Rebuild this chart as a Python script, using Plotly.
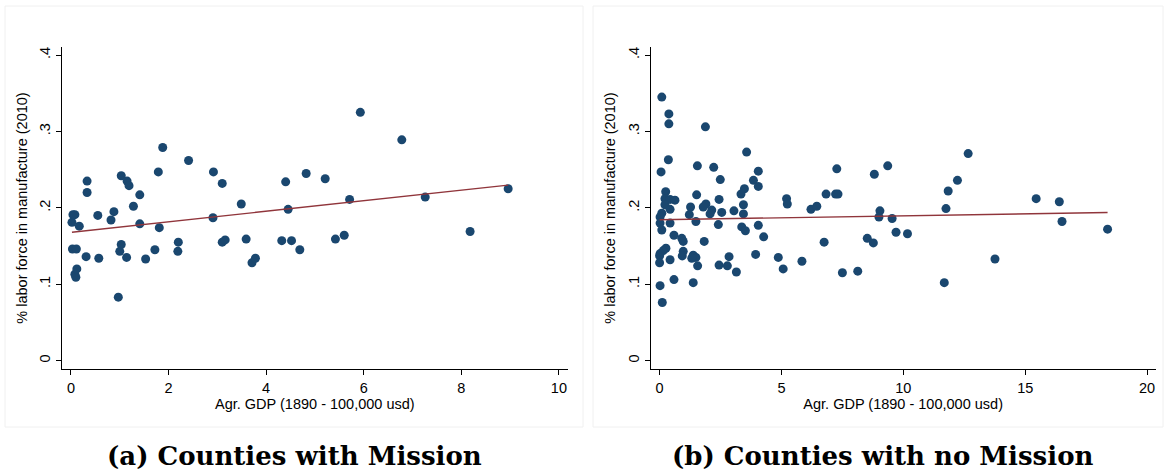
import numpy as np
import plotly.graph_objects as go

# ---------------- data ----------------
mission_gdp = [0.02, 0.04, 0.08, 0.03, 0.11, 0.08, 0.10, 0.12, 0.17, 0.33, 0.33, 0.31,
               0.55, 0.57, 0.82, 0.88, 0.97, 1.00, 1.03, 1.03, 1.15, 1.19, 1.14, 1.28,
               1.41, 1.41, 1.53, 1.72, 1.79, 1.81, 1.88, 2.19, 2.20, 2.41, 2.92, 2.91,
               3.10, 3.10, 3.16, 3.49, 3.59, 3.71, 3.78, 4.32, 4.40, 4.45, 4.52, 4.69,
               4.82, 5.21, 5.42, 5.60, 5.71, 5.93, 6.78, 7.26, 8.18, 8.96]
mission_manuf = [0.181, 0.191, 0.191, 0.146, 0.146, 0.113, 0.109, 0.120, 0.176, 0.235, 0.220, 0.136,
                 0.190, 0.134, 0.184, 0.195, 0.083, 0.143, 0.152, 0.242, 0.235, 0.229, 0.135, 0.202,
                 0.217, 0.179, 0.133, 0.145, 0.247, 0.174, 0.279, 0.143, 0.155, 0.262, 0.247, 0.187,
                 0.232, 0.155, 0.158, 0.205, 0.159, 0.128, 0.134, 0.157, 0.234, 0.198, 0.157, 0.145,
                 0.245, 0.238, 0.159, 0.164, 0.211, 0.325, 0.289, 0.214, 0.169, 0.225]

nomission_gdp = [0.09, 0.38, 0.38, 1.88, 0.36, 3.57, 0.06, 1.55, 2.22, 2.49, 3.85, 4.05,
                 4.05, 3.48, 3.34, 0.25, 1.52, 0.22, 0.43, 0.63, 0.22, 0.43, 0.09, 0.02,
                 0.02, 0.43, 0.09, 1.27, 1.22, 1.90, 1.79, 2.14, 2.07, 2.44, 2.55, 2.41,
                 1.49, 3.05, 3.44, 3.44, 3.37, 3.52, 4.05, 4.27, 0.59, 0.91, 0.97, 1.83,
                 0.26, 0.15, 0.02, 0.00, 0.00, 0.43, 0.97, 0.93, 1.38, 1.49, 1.32, 1.56,
                 2.44, 2.78, 2.85, 3.15, 3.94, 4.87, 5.07, 5.84, 5.21, 5.24, 0.02, 0.59,
                 1.38, 0.11, 6.21, 6.45, 6.83, 7.27, 7.22, 7.32, 6.75, 7.50, 8.13, 8.52,
                 8.77, 8.81, 9.36, 9.04, 9.00, 9.54, 9.70, 10.17, 11.75, 11.84, 12.22, 12.66,
                 11.68, 13.76, 15.45, 16.40, 16.51, 18.38]
nomission_manuf = [0.345, 0.323, 0.310, 0.306, 0.263, 0.273, 0.247, 0.255, 0.253, 0.237, 0.236, 0.248,
                   0.228, 0.225, 0.218, 0.221, 0.217, 0.212, 0.211, 0.210, 0.204, 0.198, 0.193, 0.188,
                   0.180, 0.180, 0.171, 0.201, 0.191, 0.205, 0.201, 0.197, 0.192, 0.211, 0.194, 0.178,
                   0.182, 0.196, 0.204, 0.192, 0.175, 0.170, 0.177, 0.162, 0.164, 0.160, 0.156, 0.156,
                   0.147, 0.144, 0.140, 0.137, 0.128, 0.132, 0.143, 0.137, 0.138, 0.135, 0.134, 0.124,
                   0.125, 0.124, 0.136, 0.116, 0.139, 0.135, 0.120, 0.130, 0.212, 0.205, 0.098, 0.106,
                   0.102, 0.076, 0.198, 0.202, 0.218, 0.251, 0.218, 0.218, 0.155, 0.115, 0.117, 0.160,
                   0.154, 0.244, 0.255, 0.196, 0.188, 0.186, 0.168, 0.166, 0.199, 0.222, 0.236, 0.271,
                   0.102, 0.133, 0.212, 0.208, 0.182, 0.172]

y_tickvals = [0, 0.1, 0.2, 0.3, 0.4]
y_ticktext = ["0", ".1", ".2", ".3", ".4"]
x_ticks_a = [0, 2, 4, 6, 8, 10]
x_ticks_b = [0, 5, 10, 15, 20]

x_title = "Agr. GDP (1890 - 100,000 usd)"
y_title = "% labor force in manufacture (2010)"
captions = ["(a) Counties with Mission", "(b) Counties with no Mission"]

# ---------------- styling ----------------
W, H = 1166, 474
NAVY = "#1a476f"
MAROON = "#90353b"
FONT = "Liberation Sans, Arial, sans-serif"

def px_x(p):
    return p / W

def px_y(p):
    return 1 - p / H

fig = go.Figure()

def add_panel(gx, gy, xa, ya):
    fig.add_trace(go.Scatter(
        x=gx, y=gy, mode="markers", xaxis=xa, yaxis=ya,
        marker=dict(size=9, color=NAVY, line=dict(width=0)),
        showlegend=False, hoverinfo="x+y"))
    gx_arr = np.asarray(gx)
    slope, intercept = np.polyfit(gx_arr, np.asarray(gy), 1)
    xs = np.array([gx_arr.min(), gx_arr.max()])
    fig.add_trace(go.Scatter(
        x=xs, y=intercept + slope * xs, mode="lines", xaxis=xa, yaxis=ya,
        line=dict(color=MAROON, width=1.4), showlegend=False, hoverinfo="skip"))

add_panel(mission_gdp, mission_manuf, "x", "y")
add_panel(nomission_gdp, nomission_manuf, "x2", "y2")

ydom = [px_y(369.3), px_y(46.7)]
common_x = dict(showline=True, linecolor="black", linewidth=1.2, ticks="outside",
                ticklen=5, tickcolor="black", tickwidth=1, showgrid=False, zeroline=False,
                tickfont=dict(family=FONT, size=14.5, color="black"),
                title=dict(text=x_title, font=dict(family=FONT, size=14.5, color="black"), standoff=4))
common_y = dict(showline=True, linecolor="black", linewidth=1.2, ticks="outside",
                ticklen=5, tickcolor="black", tickwidth=1, showgrid=False, zeroline=False,
                tickvals=y_tickvals, ticktext=y_ticktext, tickangle=-90,
                range=[-0.0115, 0.411], domain=ydom,
                tickfont=dict(family=FONT, size=14.5, color="black"),
                title=dict(text=y_title, font=dict(family=FONT, size=14.5, color="black"), standoff=6))

fig.update_layout(
    width=W, height=H, margin=dict(l=0, r=0, t=0, b=0),
    paper_bgcolor="white", plot_bgcolor="white",
    xaxis=dict(common_x, domain=[px_x(62), px_x(567.7)], range=[-0.184, 10.18],
               tickvals=x_ticks_a, anchor="y"),
    yaxis=dict(common_y, anchor="x"),
    xaxis2=dict(common_x, domain=[px_x(650.7), px_x(1155.6)], range=[-0.365, 20.35],
                tickvals=x_ticks_b, anchor="y2"),
    yaxis2=dict(common_y, anchor="x2"),
)

# panel frames
for x0, x1 in [(5, 583), (593, 1163)]:
    fig.add_shape(type="rect", xref="paper", yref="paper",
                  x0=px_x(x0), x1=px_x(x1), y0=px_y(427), y1=px_y(6),
                  line=dict(color="#f0f0f0", width=1), fillcolor="rgba(0,0,0,0)", layer="below")

for cx, text in zip([294, 882], captions):
    fig.add_annotation(xref="paper", yref="paper", x=px_x(cx), y=px_y(456),
                       text="<b>" + text + "</b>", showarrow=False,
                       xanchor="center", yanchor="middle",
                       font=dict(family="DejaVu Serif, serif", size=26, color="black"))

fig.write_html("out.html", config={"displayModeBar": False},
               post_script="document.body.style.margin='0';document.body.style.overflow='hidden';")
